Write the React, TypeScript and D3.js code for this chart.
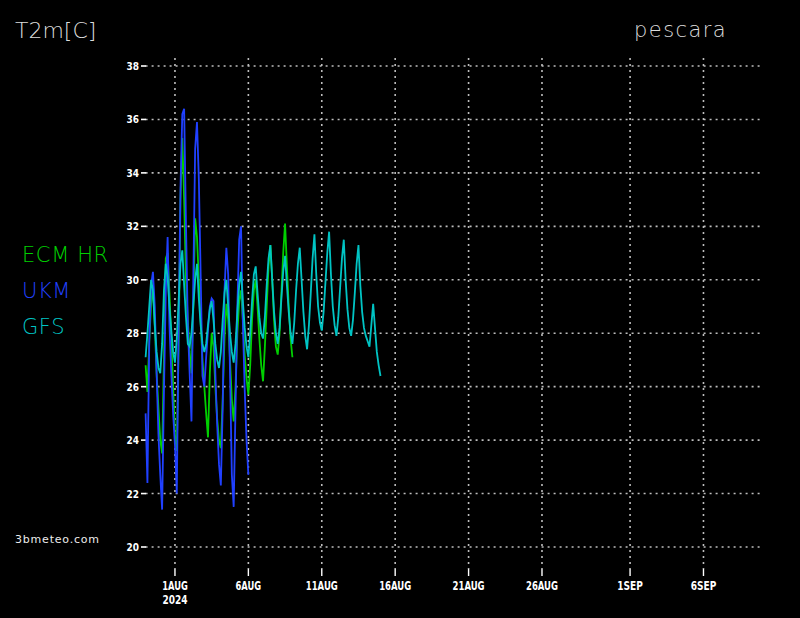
import React, { useRef, useEffect } from 'react';
import * as d3 from 'd3';

// 3-hourly series starting 30 Jul 2024 00 UTC
const startTime = Date.UTC(2024, 6, 30);
const stepHours = 3;

const ecmValues = [
  26.8, 25.8, 27.7, 29.1, 29.7, 28.3, 26.5, 25.2, 24.0, 23.5,
  27.1, 30.8, 31.0, 29.5, 27.8, 26.0, 24.2, 23.6, 27.5, 33.0,
  35.3, 33.0, 30.0, 28.5, 27.3, 26.5, 29.0, 32.3, 31.6, 30.0,
  28.5, 27.0, 26.0, 25.0, 24.1, 26.5, 28.0, 27.5, 26.0, 24.8,
  24.0, 23.7, 25.5, 27.8, 29.1, 28.5, 27.0, 25.5, 24.7, 26.0,
  28.0, 29.2, 29.6, 28.5, 27.2, 26.3, 25.7, 26.8, 28.5, 29.6,
  30.0, 29.0, 27.8, 26.8, 26.2, 27.5, 29.0, 30.5, 31.3, 30.0,
  28.5, 27.5, 27.2, 28.0, 29.5, 31.0, 32.1, 30.5, 29.0, 27.8,
  27.1,
];

const ukmValues = [
  25.0, 22.4, 27.7, 29.8, 30.3, 29.0, 26.5, 24.2, 22.7, 21.4,
  25.8, 29.6, 31.6, 28.3, 26.5, 25.0, 23.8, 22.0, 28.3, 33.4,
  36.2, 36.4, 32.1, 28.3, 26.5, 24.7, 30.0, 34.9, 35.9, 33.8,
  30.2, 26.4, 26.0, 27.1, 28.1, 29.0, 29.3, 29.2, 26.5, 24.6,
  23.1, 22.3, 25.2, 29.6, 31.2, 30.2, 26.5, 22.7, 21.5, 25.2,
  29.0, 31.5, 32.0, 28.4, 25.9, 24.0, 22.7,
];

const gfsValues = [
  27.1, 28.0, 29.0, 30.0, 29.6, 28.3, 27.3, 26.7, 26.5, 27.6,
  29.6, 30.6, 30.1, 29.0, 28.1, 27.3, 26.9, 27.8, 29.2, 30.6,
  31.1, 29.8, 28.6, 27.6, 27.5, 28.0, 29.0, 30.0, 30.6, 29.3,
  28.3, 27.6, 27.3, 27.6, 28.3, 28.9, 29.2, 28.5, 27.6, 27.0,
  26.7, 27.3, 28.5, 29.5, 30.0, 29.0, 28.0, 27.3, 26.9, 27.6,
  28.8, 29.8, 30.3, 29.2, 28.2, 27.5, 27.1, 28.0, 29.2, 30.2,
  30.5, 29.5, 28.6, 28.0, 27.8, 28.6, 29.8, 30.8, 31.3, 30.0,
  28.8, 28.0, 27.6, 28.2, 29.3, 30.3, 30.9, 29.8, 28.8, 28.0,
  27.6, 28.4, 29.6, 30.6, 31.2, 30.0, 28.8, 27.9, 27.4, 28.3,
  29.5, 30.8, 31.7, 30.2, 29.0, 28.4, 28.1, 28.8, 29.9, 31.0,
  31.8, 30.2, 29.0, 28.3, 27.9, 28.6, 29.7, 30.8, 31.5, 30.0,
  28.9, 28.2, 27.9, 28.5, 29.5, 30.6, 31.3, 29.8, 28.8, 28.2,
  27.9, 27.7, 27.5, 28.3, 29.1, 28.2, 27.3, 26.8, 26.4,
];

const modelNames = ['ECM HR', 'UKM', 'GFS'];
const modelColors = ['#00d000', '#2040ff', '#00c4c4'];

const yTicks = [20, 22, 24, 26, 28, 30, 32, 34, 36, 38];
const xTickDates = ['2024-08-01', '2024-08-06', '2024-08-11', '2024-08-16', '2024-08-21', '2024-08-26', '2024-09-01', '2024-09-06'];
const xTickLabels = ['1AUG', '6AUG', '11AUG', '16AUG', '21AUG', '26AUG', '1SEP', '6SEP'];

const W = 800;
const H = 618;

const App: React.FC = () => {
  const ref = useRef<SVGSVGElement | null>(null);

  useEffect(() => {
    if (!ref.current) return;
    document.body.style.margin = '0';
    document.body.style.background = '#000';

    const svg = d3.select(ref.current);
    svg.selectAll('*').remove();

    const x = d3.scaleUtc()
      .domain([new Date(startTime), new Date(Date.UTC(2024, 8, 10))])
      .range([145.6, 762.2]);
    const y = d3.scaleLinear().domain([20, 38]).range([547, 66]);

    svg.append('rect').attr('width', W).attr('height', H).attr('fill', '#000');

    const gridColor = '#bdbdbd';
    const tickFont = "'Liberation Sans Narrow', 'DejaVu Sans Condensed', 'Liberation Sans', sans-serif";

    // horizontal grid + y labels
    const yg = svg.append('g');
    yTicks.forEach(v => {
      yg.append('line')
        .attr('x1', x.range()[0]).attr('x2', x.range()[1])
        .attr('y1', y(v)).attr('y2', y(v))
        .attr('stroke', gridColor).attr('stroke-width', 1.6)
        .attr('stroke-dasharray', '2,4');
      yg.append('line')
        .attr('x1', 141).attr('x2', 146)
        .attr('y1', y(v)).attr('y2', y(v))
        .attr('stroke', '#fff').attr('stroke-width', 1.6);
      yg.append('text')
        .attr('x', 139).attr('y', y(v) + 4)
        .attr('text-anchor', 'end')
        .attr('fill', '#fff')
        .attr('font-family', tickFont)
        .attr('font-weight', 'bold')
        .attr('font-size', 11)
        .attr('textLength', 12.5)
        .attr('lengthAdjust', 'spacingAndGlyphs')
        .text(String(v));
    });

    // vertical grid + x labels
    const xg = svg.append('g');
    xTickDates.forEach((d, i) => {
      const px = x(new Date(d + 'T00:00:00Z'));
      xg.append('line')
        .attr('x1', px).attr('x2', px)
        .attr('y1', 58).attr('y2', 569)
        .attr('stroke', gridColor).attr('stroke-width', 1.6)
        .attr('stroke-dasharray', '2,4');
      xg.append('line')
        .attr('x1', px).attr('x2', px)
        .attr('y1', 569).attr('y2', 576)
        .attr('stroke', '#fff').attr('stroke-width', 1.4);
      const label = xTickLabels[i];
      xg.append('text')
        .attr('x', px).attr('y', 589.5)
        .attr('text-anchor', 'middle')
        .attr('fill', '#fff')
        .attr('font-family', tickFont)
        .attr('font-weight', 'bold')
        .attr('font-size', 13)
        .attr('textLength', label.length * 6.4)
        .attr('lengthAdjust', 'spacingAndGlyphs')
        .text(label);
      if (i === 0) {
        xg.append('text')
          .attr('x', px).attr('y', 604)
          .attr('text-anchor', 'middle')
          .attr('fill', '#fff')
          .attr('font-family', tickFont)
          .attr('font-weight', 'bold')
          .attr('font-size', 13)
          .attr('textLength', 25)
          .attr('lengthAdjust', 'spacingAndGlyphs')
          .text('2024');
      }
    });

    // model lines
    const allValues = [ecmValues, ukmValues, gfsValues];
    const line = d3.line<number>()
      .x((_, i) => x(new Date(startTime + i * stepHours * 3600 * 1000)))
      .y(v => y(v));

    allValues.forEach((vals, k) => {
      svg.append('path')
        .attr('d', line(vals) as string)
        .attr('fill', 'none')
        .attr('stroke', modelColors[k])
        .attr('stroke-width', 1.8)
        .attr('stroke-linejoin', 'miter');
    });

    // legend
    const legendFont = "'DejaVu Sans', sans-serif";
    modelNames.forEach((name, k) => {
      svg.append('text')
        .attr('x', 22).attr('y', 262 + k * 36)
        .attr('fill', modelColors[k])
        .attr('font-family', legendFont)
        .attr('font-weight', 300)
        .attr('font-size', 21)
        .attr('letter-spacing', 0.6)
        .text(name);
    });

    // titles
    svg.append('text')
      .attr('x', 15).attr('y', 38)
      .attr('fill', '#dcdcdc')
      .attr('font-family', legendFont)
      .attr('font-weight', 300)
      .attr('font-size', 22)
      .text('T2m[C]');

    svg.append('text')
      .attr('x', 727).attr('y', 37)
      .attr('text-anchor', 'end')
      .attr('fill', '#dcdcdc')
      .attr('font-family', legendFont)
      .attr('font-weight', 300)
      .attr('font-size', 21)
      .attr('letter-spacing', 1.4)
      .text('pescara');

    svg.append('text')
      .attr('x', 15).attr('y', 542.5)
      .attr('fill', '#ececec')
      .attr('font-family', legendFont)
      .attr('font-size', 11)
      .attr('letter-spacing', 0.8)
      .text('3bmeteo.com');
  }, []);

  return (
    <svg
      ref={ref}
      width={W}
      height={H}
      style={{ position: 'fixed', left: 0, top: 0, display: 'block' }}
    />
  );
};

export default App;
